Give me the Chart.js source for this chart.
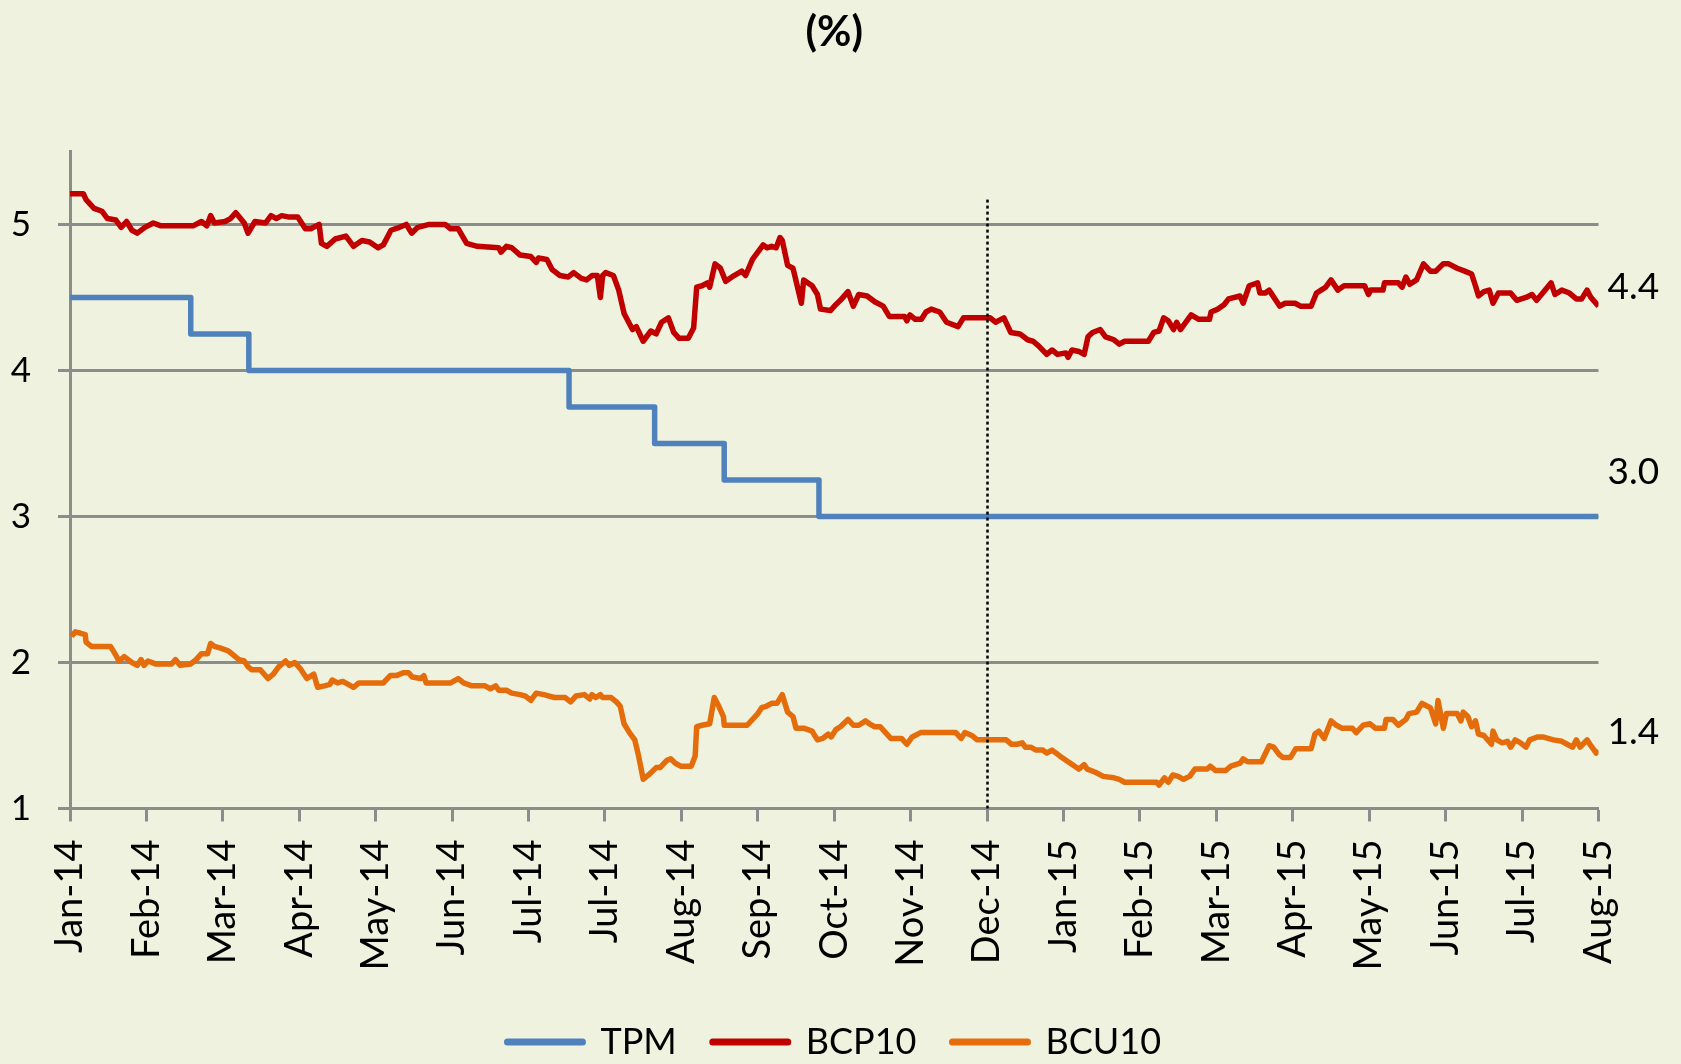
<!DOCTYPE html>
<html>
<head>
<meta charset="utf-8">
<script src="https://cdn.jsdelivr.net/npm/chart.js@4.4.1/dist/chart.umd.min.js"></script>
<style>
  html, body { margin: 0; padding: 0; background: #eff2de; }
  canvas { display: block; }
</style>
</head>
<body>
<canvas id="chart" width="1681" height="1064"></canvas>
<script>
// tick labels (one per month tick, as printed on the axis)
const monthLabels = ['Jan-14', 'Feb-14', 'Mar-14', 'Apr-14', 'May-14', 'Jun-14', 'Jul-14', 'Jul-14',
    'Aug-14', 'Sep-14', 'Oct-14', 'Nov-14', 'Dec-14', 'Jan-15', 'Feb-15', 'Mar-15', 'Apr-15',
    'May-15', 'Jun-15', 'Jul-15', 'Aug-15'];

const seriesNames = ['TPM', 'BCP10', 'BCU10'];
const seriesColours = ['#4f81bd', '#c00000', '#e46c0a'];

// [month position, %]
const tpm = [[0, 4.5], [1.58, 4.25], [2.34, 4.0], [6.53, 3.75], [7.65, 3.5], [8.56, 3.25], [9.80, 3.0], [20, 3.0]];

const bcp10 = [
    [0, 5.21], [0.175, 5.21], [0.21, 5.17], [0.315, 5.11], [0.42, 5.09], [0.49, 5.04], [0.60, 5.03], [0.67, 4.98],
    [0.74, 5.02], [0.81, 4.96], [0.88, 4.94], [0.98, 4.98], [1.09, 5.01], [1.19, 4.99], [1.61, 4.99], [1.72, 5.02],
    [1.79, 4.99], [1.84, 5.06], [1.89, 5.01], [2.03, 5.02], [2.10, 5.04], [2.17, 5.08], [2.28, 5.01], [2.33, 4.94],
    [2.42, 5.02], [2.56, 5.01], [2.63, 5.06], [2.70, 5.04], [2.77, 5.06], [2.87, 5.05], [2.98, 5.05], [3.08, 4.97],
    [3.15, 4.97], [3.26, 5.00], [3.29, 4.87], [3.36, 4.85], [3.47, 4.90], [3.61, 4.92], [3.71, 4.85], [3.82, 4.89],
    [3.92, 4.88], [4.03, 4.84], [4.10, 4.86], [4.20, 4.96], [4.31, 4.98], [4.40, 5.00], [4.47, 4.94], [4.55, 4.98],
    [4.70, 5.00], [4.91, 5.00], [4.98, 4.97], [5.08, 4.97], [5.19, 4.87], [5.33, 4.85], [5.61, 4.84], [5.64, 4.81],
    [5.71, 4.85], [5.78, 4.84], [5.89, 4.79], [6.03, 4.78], [6.10, 4.74], [6.13, 4.77], [6.24, 4.76], [6.31, 4.69],
    [6.41, 4.65], [6.52, 4.64], [6.59, 4.67], [6.69, 4.63], [6.76, 4.62], [6.83, 4.65], [6.90, 4.65], [6.94, 4.50],
    [6.97, 4.65], [7.01, 4.67], [7.11, 4.65], [7.18, 4.55], [7.25, 4.39], [7.36, 4.28], [7.41, 4.30], [7.50, 4.20],
    [7.60, 4.27], [7.67, 4.25], [7.74, 4.33], [7.83, 4.36], [7.90, 4.26], [7.97, 4.22], [8.09, 4.22], [8.16, 4.29],
    [8.20, 4.57], [8.27, 4.58], [8.34, 4.60], [8.37, 4.57], [8.44, 4.73], [8.51, 4.70], [8.58, 4.61], [8.69, 4.65],
    [8.79, 4.68], [8.84, 4.65], [8.93, 4.76], [9.07, 4.86], [9.12, 4.84], [9.18, 4.85], [9.24, 4.84], [9.29, 4.91],
    [9.32, 4.89], [9.39, 4.72], [9.46, 4.70], [9.57, 4.46], [9.60, 4.62], [9.71, 4.58], [9.78, 4.52], [9.82, 4.42],
    [9.95, 4.41], [10.02, 4.45], [10.08, 4.48], [10.18, 4.54], [10.25, 4.44], [10.32, 4.52], [10.43, 4.51], [10.53, 4.47],
    [10.64, 4.44], [10.72, 4.37], [10.92, 4.37], [10.95, 4.34], [10.99, 4.38], [11.06, 4.35], [11.14, 4.35], [11.20, 4.40],
    [11.27, 4.42], [11.38, 4.40], [11.47, 4.33], [11.62, 4.30], [11.69, 4.36], [12.04, 4.36], [12.11, 4.33], [12.22, 4.36],
    [12.31, 4.26], [12.43, 4.25], [12.53, 4.21], [12.60, 4.20], [12.67, 4.17], [12.78, 4.11], [12.85, 4.14], [12.92, 4.11],
    [13.03, 4.12], [13.06, 4.09], [13.11, 4.14], [13.20, 4.13], [13.27, 4.11], [13.32, 4.23], [13.38, 4.26], [13.48, 4.28],
    [13.55, 4.23], [13.66, 4.21], [13.73, 4.18], [13.80, 4.20], [14.11, 4.20], [14.18, 4.26], [14.25, 4.27], [14.31, 4.36],
    [14.37, 4.34], [14.44, 4.28], [14.48, 4.33], [14.53, 4.28], [14.67, 4.38], [14.77, 4.35], [14.91, 4.35], [14.93, 4.40],
    [15.02, 4.42], [15.10, 4.45], [15.16, 4.49], [15.31, 4.51], [15.35, 4.46], [15.43, 4.58], [15.54, 4.60], [15.57, 4.53],
    [15.64, 4.53], [15.69, 4.55], [15.83, 4.44], [15.90, 4.46], [16.03, 4.46], [16.10, 4.44], [16.24, 4.44], [16.31, 4.53],
    [16.37, 4.55], [16.43, 4.57], [16.50, 4.62], [16.59, 4.55], [16.67, 4.58], [16.94, 4.58], [16.99, 4.52], [17.02, 4.55],
    [17.18, 4.55], [17.20, 4.60], [17.38, 4.60], [17.43, 4.57], [17.48, 4.64], [17.53, 4.59], [17.62, 4.62], [17.71, 4.73],
    [17.80, 4.68], [17.87, 4.68], [17.97, 4.73], [18.04, 4.73], [18.15, 4.70], [18.25, 4.68], [18.34, 4.66], [18.39, 4.58],
    [18.43, 4.51], [18.50, 4.54], [18.57, 4.55], [18.62, 4.46], [18.69, 4.53], [18.85, 4.53], [18.93, 4.48], [19.05, 4.50],
    [19.13, 4.52], [19.19, 4.48], [19.27, 4.53], [19.38, 4.60], [19.43, 4.52], [19.52, 4.55], [19.62, 4.53], [19.71, 4.49],
    [19.78, 4.49], [19.85, 4.55], [19.90, 4.50], [20.0, 4.44]
];

const bcu10 = [
    [0.02, 2.18], [0.07, 2.21], [0.14, 2.20], [0.20, 2.19], [0.21, 2.14], [0.28, 2.11], [0.53, 2.11], [0.60, 2.05],
    [0.64, 2.01], [0.71, 2.04], [0.81, 2.00], [0.88, 1.98], [0.93, 2.02], [0.97, 1.98], [1.02, 2.01], [1.12, 1.99],
    [1.33, 1.99], [1.38, 2.02], [1.44, 1.98], [1.58, 1.99], [1.65, 2.02], [1.72, 2.06], [1.80, 2.06], [1.84, 2.13],
    [1.89, 2.11], [1.96, 2.10], [2.07, 2.08], [2.14, 2.05], [2.21, 2.02], [2.28, 2.01], [2.33, 1.97], [2.38, 1.95],
    [2.49, 1.95], [2.59, 1.89], [2.66, 1.92], [2.73, 1.97], [2.82, 2.01], [2.87, 1.98], [2.94, 2.00], [3.01, 1.96],
    [3.10, 1.89], [3.19, 1.92], [3.24, 1.83], [3.33, 1.84], [3.40, 1.85], [3.43, 1.88], [3.50, 1.86], [3.57, 1.87],
    [3.64, 1.85], [3.71, 1.83], [3.78, 1.86], [4.10, 1.86], [4.19, 1.91], [4.27, 1.91], [4.36, 1.93], [4.43, 1.93],
    [4.48, 1.90], [4.59, 1.89], [4.63, 1.91], [4.66, 1.86], [4.98, 1.86], [5.08, 1.89], [5.15, 1.86], [5.26, 1.84],
    [5.43, 1.84], [5.50, 1.82], [5.57, 1.84], [5.61, 1.81], [5.71, 1.81], [5.78, 1.79], [5.89, 1.78], [5.96, 1.77],
    [6.03, 1.74], [6.10, 1.79], [6.20, 1.78], [6.27, 1.77], [6.34, 1.76], [6.48, 1.76], [6.55, 1.73], [6.62, 1.77],
    [6.73, 1.78], [6.80, 1.75], [6.83, 1.78], [6.88, 1.76], [6.94, 1.78], [6.97, 1.76], [7.08, 1.76], [7.15, 1.73],
    [7.20, 1.70], [7.25, 1.58], [7.32, 1.52], [7.39, 1.47], [7.44, 1.36], [7.50, 1.20], [7.57, 1.23], [7.67, 1.28],
    [7.72, 1.28], [7.81, 1.33], [7.86, 1.34], [7.92, 1.31], [7.99, 1.29], [8.13, 1.29], [8.18, 1.36], [8.20, 1.56],
    [8.27, 1.57], [8.37, 1.58], [8.43, 1.76], [8.49, 1.70], [8.55, 1.63], [8.56, 1.57], [8.86, 1.57], [9.00, 1.65],
    [9.05, 1.69], [9.11, 1.70], [9.18, 1.72], [9.25, 1.72], [9.32, 1.78], [9.39, 1.66], [9.46, 1.63], [9.50, 1.55],
    [9.60, 1.55], [9.71, 1.53], [9.78, 1.47], [9.85, 1.48], [9.92, 1.51], [9.96, 1.49], [10.02, 1.54], [10.08, 1.56],
    [10.18, 1.61], [10.25, 1.57], [10.32, 1.57], [10.41, 1.60], [10.46, 1.58], [10.53, 1.56], [10.60, 1.56], [10.74, 1.48],
    [10.88, 1.48], [10.95, 1.44], [11.02, 1.49], [11.13, 1.52], [11.59, 1.52], [11.66, 1.48], [11.71, 1.52], [11.80, 1.50],
    [11.87, 1.47], [12.25, 1.47], [12.32, 1.44], [12.39, 1.44], [12.46, 1.45], [12.50, 1.42], [12.57, 1.42], [12.64, 1.40],
    [12.73, 1.40], [12.78, 1.38], [12.85, 1.40], [12.95, 1.36], [13.06, 1.32], [13.20, 1.27], [13.27, 1.30], [13.31, 1.27],
    [13.41, 1.25], [13.52, 1.22], [13.66, 1.21], [13.73, 1.20], [13.80, 1.18], [14.22, 1.18], [14.25, 1.16], [14.32, 1.21],
    [14.37, 1.18], [14.43, 1.23], [14.50, 1.22], [14.57, 1.20], [14.65, 1.22], [14.72, 1.27], [14.88, 1.27], [14.92, 1.29],
    [14.99, 1.26], [15.12, 1.26], [15.19, 1.29], [15.31, 1.31], [15.35, 1.34], [15.41, 1.32], [15.59, 1.32], [15.69, 1.43],
    [15.75, 1.42], [15.82, 1.37], [15.87, 1.35], [15.97, 1.35], [16.04, 1.41], [16.24, 1.41], [16.29, 1.51], [16.34, 1.53],
    [16.41, 1.48], [16.50, 1.60], [16.57, 1.57], [16.64, 1.55], [16.78, 1.55], [16.83, 1.52], [16.92, 1.57], [17.01, 1.58],
    [17.08, 1.55], [17.20, 1.55], [17.22, 1.61], [17.31, 1.61], [17.38, 1.57], [17.48, 1.61], [17.52, 1.65], [17.62, 1.66],
    [17.69, 1.72], [17.76, 1.70], [17.80, 1.69], [17.87, 1.58], [17.90, 1.74], [17.97, 1.55], [18.01, 1.65], [18.15, 1.65],
    [18.20, 1.60], [18.23, 1.66], [18.29, 1.63], [18.34, 1.56], [18.39, 1.60], [18.43, 1.51], [18.50, 1.50], [18.60, 1.44],
    [18.62, 1.53], [18.67, 1.47], [18.74, 1.45], [18.81, 1.46], [18.85, 1.42], [18.91, 1.47], [18.98, 1.45], [19.05, 1.42],
    [19.10, 1.47], [19.20, 1.49], [19.27, 1.49], [19.41, 1.47], [19.52, 1.46], [19.59, 1.44], [19.66, 1.42], [19.71, 1.47],
    [19.76, 1.42], [19.85, 1.47], [19.90, 1.43], [19.97, 1.38], [20.0, 1.40]
];

// dotted marker line (at the Dec-14 tick)
const markerMonth = 12;
const markerTop = 5.17;

const bgColour = '#eff2de';
const gridColour = '#8c8c8c';
const fontFamily = 'Lato, "Noto Sans", sans-serif';

function toPoints(pairs) {
    return pairs.map(p => ({x: p[0], y: p[1]}));
}

function makeDataSet(i, pairs, extra) {
    return Object.assign({
        label: seriesNames[i],
        data: toPoints(pairs),
        borderColor: seriesColours[i],
        backgroundColor: seriesColours[i],
        borderWidth: 5.5,
        borderJoinStyle: 'round',
        pointRadius: 0,
        pointStyle: 'line',
        fill: false,
        tension: 0
    }, extra || {});
}

const backgroundPlugin = {
    id: 'background',
    beforeDraw(chart) {
        const ctx = chart.ctx;
        ctx.save();
        ctx.fillStyle = bgColour;
        ctx.fillRect(0, 0, chart.width, chart.height);
        ctx.restore();
    }
};

// dotted vertical line + last-value labels at the right end
const annotationsPlugin = {
    id: 'annotations',
    afterDatasetsDraw(chart) {
        const ctx = chart.ctx;
        const xs = chart.scales.x;
        const ys = chart.scales.y;
        ctx.save();
        const mx = Math.round(xs.getPixelForValue(markerMonth)) + 0.5;
        ctx.strokeStyle = '#000';
        ctx.lineWidth = 2.5;
        ctx.setLineDash([3, 3]);
        ctx.beginPath();
        ctx.moveTo(mx, ys.getPixelForValue(markerTop));
        ctx.lineTo(mx, ys.getPixelForValue(1));
        ctx.stroke();
        ctx.setLineDash([]);

        const offsets = [44, 19, 18];
        ctx.fillStyle = '#000';
        ctx.font = '37px ' + fontFamily;
        ctx.textAlign = 'left';
        ctx.textBaseline = 'middle';
        chart.data.datasets.forEach((ds, i) => {
            const last = ds.data[ds.data.length - 1];
            ctx.fillText(last.y.toFixed(1), chart.chartArea.right + 9, ys.getPixelForValue(last.y) - offsets[i]);
        });
        ctx.restore();
    }
};

const chart = new Chart(document.getElementById('chart'), {
    type: 'line',
    data: {
        datasets: [
            makeDataSet(0, tpm, {stepped: 'before'}),
            makeDataSet(1, bcp10),
            makeDataSet(2, bcu10)
        ]
    },
    options: {
        responsive: false,
        animation: false,
        layout: {
            padding: {left: 0, right: 82.5, top: 0, bottom: -6}
        },
        scales: {
            x: {
                type: 'linear',
                min: 0,
                max: 20,
                afterFit: (scale) => { scale.height = 179.5; },
                border: {color: gridColour, width: 3},
                grid: {
                    drawOnChartArea: false,
                    drawTicks: true,
                    tickLength: 13,
                    tickColor: gridColour,
                    tickWidth: 3
                },
                ticks: {
                    stepSize: 1,
                    autoSkip: false,
                    minRotation: 90,
                    maxRotation: 90,
                    padding: 18,
                    color: '#000',
                    font: {family: fontFamily, size: 38},
                    callback: (v) => monthLabels[v]
                }
            },
            y: {
                min: 1,
                max: 5.5,
                afterFit: (scale) => { scale.width = 70; },
                afterBuildTicks: (scale) => { scale.ticks = scale.ticks.filter(t => t.value <= 5); },
                border: {color: gridColour, width: 3},
                grid: {
                    color: gridColour,
                    lineWidth: 3,
                    tickLength: 12,
                    tickColor: gridColour,
                    tickWidth: 3
                },
                ticks: {
                    stepSize: 1,
                    padding: 27,
                    color: '#000',
                    font: {family: fontFamily, size: 35}
                }
            }
        },
        plugins: {
            title: {
                display: true,
                text: '(%)',
                fullSize: false,
                color: '#000',
                font: {family: fontFamily, size: 42, weight: 'bold'},
                padding: {top: 7, bottom: 94}
            },
            legend: {
                position: 'bottom',
                fullSize: false,
                labels: {
                    usePointStyle: true,
                    pointStyleWidth: 75,
                    padding: 36,
                    color: '#000',
                    font: {family: fontFamily, size: 36},
                    generateLabels: (chart) => {
                        const items = Chart.defaults.plugins.legend.labels.generateLabels(chart);
                        items.forEach(item => {
                            item.lineWidth = 7;
                            item.lineCap = 'round';
                        });
                        return items;
                    }
                }
            },
            tooltip: {enabled: false}
        }
    },
    plugins: [backgroundPlugin, annotationsPlugin]
});
</script>
</body>
</html>
